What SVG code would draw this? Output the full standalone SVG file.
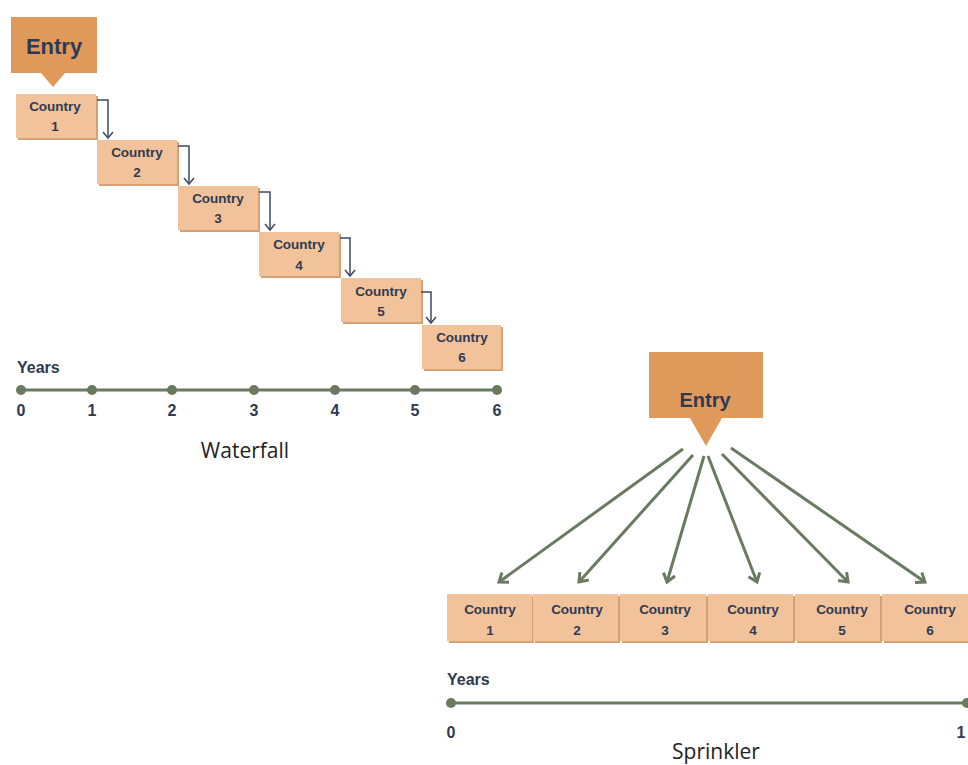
<svg xmlns="http://www.w3.org/2000/svg" width="968" height="765" viewBox="0 0 968 765">
  <style>
    .entry { fill: #df9a5b; }
    .entry-t { font-family: "Liberation Sans", Arial, sans-serif; font-weight: bold; fill: #2f3a52; text-anchor: middle; }
    .box { fill: #f2c29b; }
    .box-sh { fill: #d6a176; }
    .lbl { font-family: "Liberation Sans", Arial, sans-serif; font-weight: bold; font-size: 13.5px; fill: #2f3a52; text-anchor: middle; }
    .yrs { font-family: "Liberation Sans", Arial, sans-serif; font-weight: bold; font-size: 16px; fill: #2f3a52; }
    .tick { font-family: "Liberation Sans", Arial, sans-serif; font-weight: bold; font-size: 16px; fill: #2f3a52; text-anchor: middle; }
    .axis { stroke: #6a7a60; stroke-width: 3; }
    .dot { fill: #6a7a60; }
    .step { fill: none; stroke: #3b4a66; stroke-width: 1.5; }
    .fan { fill: none; stroke: #6a7a60; stroke-width: 3; }
    .caption { font-family: "Open Sans", "Noto Sans", sans-serif; font-size: 21px; fill: #222; text-anchor: middle; }
  </style>
  <defs>
    <marker id="stepHead" markerWidth="12" markerHeight="12" refX="10" refY="6" orient="auto" markerUnits="userSpaceOnUse" viewBox="0 0 12 12">
      <path d="M4,1 L10,6 L4,11" fill="none" stroke="#3b4a66" stroke-width="1.5"/>
    </marker>
    <marker id="fanHead" markerWidth="16" markerHeight="16" refX="13" refY="8" orient="auto" markerUnits="userSpaceOnUse" viewBox="0 0 16 16">
      <path d="M5,2 L13,8 L5,14" fill="none" stroke="#6a7a60" stroke-width="3"/>
    </marker>
  </defs>

  <!-- Waterfall: entry callout -->
  <g id="entry-waterfall">
    <path class="entry" d="M11,17 H97 V73 H65 L53,87 L41,73 H11 Z"/>
    <text class="entry-t" x="54" y="54" font-size="22">Entry</text>
  </g>

  <!-- Waterfall: staggered country boxes -->
  <g id="wf-country-1">
    <rect class="box-sh" x="18" y="96" width="80" height="44"/>
    <rect class="box" x="16" y="94" width="80" height="44"/>
    <text class="lbl" x="55" y="111">Country</text>
    <text class="lbl" x="55" y="131">1</text>
  </g>
  <g id="wf-country-2">
    <rect class="box-sh" x="99" y="142" width="80" height="44"/>
    <rect class="box" x="97" y="140" width="80" height="44"/>
    <text class="lbl" x="137" y="157">Country</text>
    <text class="lbl" x="137" y="177">2</text>
  </g>
  <g id="wf-country-3">
    <rect class="box-sh" x="180" y="188" width="80" height="44"/>
    <rect class="box" x="178" y="186" width="80" height="44"/>
    <text class="lbl" x="218" y="203">Country</text>
    <text class="lbl" x="218" y="223">3</text>
  </g>
  <g id="wf-country-4">
    <rect class="box-sh" x="261" y="234" width="80" height="44"/>
    <rect class="box" x="259" y="232" width="80" height="44"/>
    <text class="lbl" x="299" y="249">Country</text>
    <text class="lbl" x="299" y="270">4</text>
  </g>
  <g id="wf-country-5">
    <rect class="box-sh" x="343" y="280" width="80" height="44"/>
    <rect class="box" x="341" y="278" width="80" height="44"/>
    <text class="lbl" x="381" y="296">Country</text>
    <text class="lbl" x="381" y="316">5</text>
  </g>
  <g id="wf-country-6">
    <rect class="box-sh" x="424" y="327" width="79" height="44"/>
    <rect class="box" x="422" y="325" width="79" height="44"/>
    <text class="lbl" x="462" y="342">Country</text>
    <text class="lbl" x="462" y="362">6</text>
  </g>

  <!-- Waterfall connectors -->
  <g id="wf-connectors">
    <path class="step" d="M97,100 H108 V138" marker-end="url(#stepHead)"/>
    <path class="step" d="M178,146 H189 V184" marker-end="url(#stepHead)"/>
    <path class="step" d="M259,192 H270 V230" marker-end="url(#stepHead)"/>
    <path class="step" d="M340,238 H350 V276" marker-end="url(#stepHead)"/>
    <path class="step" d="M421,292 H431 V323" marker-end="url(#stepHead)"/>
  </g>

  <!-- Waterfall timeline -->
  <g id="wf-timeline">
    <text class="yrs" x="17" y="373">Years</text>
    <line class="axis" x1="21" y1="390" x2="497" y2="390"/>
    <circle class="dot" cx="21" cy="390" r="5"/>
    <circle class="dot" cx="92" cy="390" r="5"/>
    <circle class="dot" cx="172" cy="390" r="5"/>
    <circle class="dot" cx="254" cy="390" r="5"/>
    <circle class="dot" cx="335" cy="390" r="5"/>
    <circle class="dot" cx="415" cy="390" r="5"/>
    <circle class="dot" cx="497" cy="390" r="5"/>
    <text class="tick" x="21" y="416">0</text>
    <text class="tick" x="92" y="416">1</text>
    <text class="tick" x="172" y="416">2</text>
    <text class="tick" x="254" y="416">3</text>
    <text class="tick" x="335" y="416">4</text>
    <text class="tick" x="415" y="416">5</text>
    <text class="tick" x="497" y="416">6</text>
  </g>
  <text class="caption" x="245" y="458">Waterfall</text>

  <!-- Sprinkler: entry callout -->
  <g id="entry-sprinkler">
    <path class="entry" d="M649,352 H763 V418 H722 L706,446 L690,418 H649 Z"/>
    <text class="entry-t" x="705" y="407" font-size="20">Entry</text>
  </g>

  <!-- Sprinkler connectors -->
  <g id="sp-connectors">
    <line class="fan" x1="683" y1="449" x2="499" y2="582" marker-end="url(#fanHead)"/>
    <line class="fan" x1="693" y1="455" x2="579" y2="582" marker-end="url(#fanHead)"/>
    <line class="fan" x1="704" y1="456" x2="667" y2="582" marker-end="url(#fanHead)"/>
    <line class="fan" x1="708" y1="456" x2="757" y2="582" marker-end="url(#fanHead)"/>
    <line class="fan" x1="722" y1="454" x2="848" y2="582" marker-end="url(#fanHead)"/>
    <line class="fan" x1="731" y1="448" x2="925" y2="582" marker-end="url(#fanHead)"/>
  </g>

  <!-- Sprinkler: country boxes in a row -->
  <g id="sp-country-1">
    <rect class="box-sh" x="449" y="596" width="85" height="47"/>
    <rect class="box" x="447" y="594" width="85" height="47"/>
    <text class="lbl" x="490" y="614">Country</text>
    <text class="lbl" x="490" y="635">1</text>
  </g>
  <g id="sp-country-2">
    <rect class="box-sh" x="535" y="596" width="85" height="47"/>
    <rect class="box" x="533" y="594" width="85" height="47"/>
    <text class="lbl" x="577" y="614">Country</text>
    <text class="lbl" x="577" y="635">2</text>
  </g>
  <g id="sp-country-3">
    <rect class="box-sh" x="622" y="596" width="86" height="47"/>
    <rect class="box" x="620" y="594" width="86" height="47"/>
    <text class="lbl" x="665" y="614">Country</text>
    <text class="lbl" x="665" y="635">3</text>
  </g>
  <g id="sp-country-4">
    <rect class="box-sh" x="710" y="596" width="85" height="47"/>
    <rect class="box" x="708" y="594" width="85" height="47"/>
    <text class="lbl" x="753" y="614">Country</text>
    <text class="lbl" x="753" y="635">4</text>
  </g>
  <g id="sp-country-5">
    <rect class="box-sh" x="797" y="596" width="85" height="47"/>
    <rect class="box" x="795" y="594" width="85" height="47"/>
    <text class="lbl" x="842" y="614">Country</text>
    <text class="lbl" x="842" y="635">5</text>
  </g>
  <g id="sp-country-6">
    <rect class="box-sh" x="884" y="596" width="90" height="47"/>
    <rect class="box" x="882" y="594" width="90" height="47"/>
    <text class="lbl" x="930" y="614">Country</text>
    <text class="lbl" x="930" y="635">6</text>
  </g>

  <!-- Sprinkler timeline -->
  <g id="sp-timeline">
    <text class="yrs" x="447" y="685">Years</text>
    <line class="axis" x1="451" y1="703" x2="968" y2="703"/>
    <circle class="dot" cx="451" cy="703" r="5"/>
    <circle class="dot" cx="967" cy="703" r="5"/>
    <text class="tick" x="451" y="738">0</text>
    <text class="tick" x="961" y="738">1</text>
  </g>
  <text class="caption" x="716" y="759" font-size="22">Sprinkler</text>
</svg>
